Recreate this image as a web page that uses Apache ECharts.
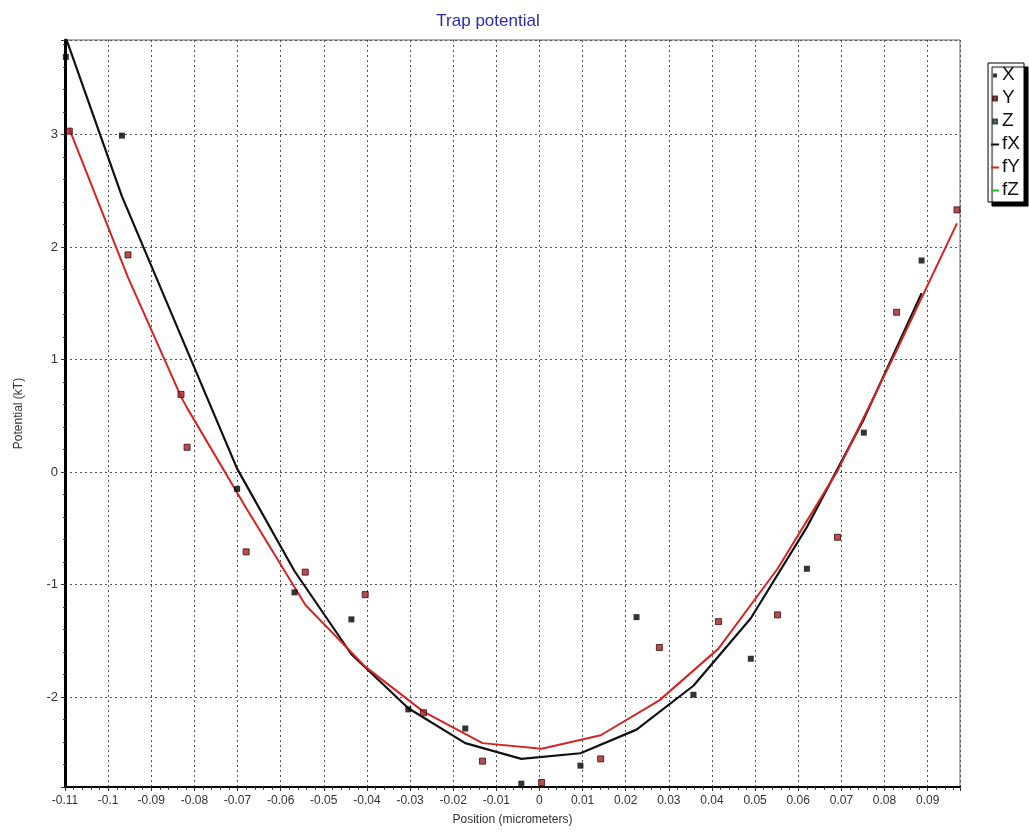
<!DOCTYPE html>
<html>
<head>
<meta charset="utf-8">
<title>Trap potential</title>
<script src="https://cdn.jsdelivr.net/npm/echarts@6/dist/echarts.min.js"></script>
<style>
  html, body { margin: 0; padding: 0; background: #fff; }
  #chart { width: 1029px; height: 834px; }
</style>
</head>
<body>
<div id="chart"></div>
<script>
// Measured positions (micrometers) and potentials (kT) along each axis
const xPos = [-0.1098, -0.0968, -0.0701, -0.0568, -0.0436, -0.0304, -0.0172, -0.0042, 0.0095, 0.0225, 0.0357, 0.0490, 0.0620, 0.0752, 0.0886];
const xPot = [3.69, 2.99, -0.15, -1.07, -1.31, -2.11, -2.28, -2.77, -2.61, -1.29, -1.98, -1.66, -0.86, 0.35, 1.88];
const yPos = [-0.1090, -0.0954, -0.0831, -0.0817, -0.0680, -0.0543, -0.0404, -0.0269, -0.0132, 0.0005, 0.0142, 0.0278, 0.0415, 0.0552, 0.0691, 0.0828, 0.0968];
const yPot = [3.03, 1.93, 0.69, 0.22, -0.71, -0.89, -1.09, -2.14, -2.57, -2.76, -2.55, -1.56, -1.33, -1.27, -0.58, 1.42, 2.33];
const zPos = [];
const zPot = [];

// Fitted curves, evaluated at the measured positions
const fxPot = [3.86, 2.45, 0.03, -0.88, -1.62, -2.10, -2.41, -2.55, -2.50, -2.29, -1.90, -1.30, -0.49, 0.47, 1.59];
const fyPot = [3.05, 1.73, 0.67, 0.57, -0.32, -1.18, -1.73, -2.13, -2.41, -2.46, -2.34, -2.03, -1.57, -0.86, 0.01, 1.08, 2.21];
const fzPot = [];

const xRange = [-0.11, 0.0975];
const yRange = [-2.8, 3.84];

const pairs = (xs, ys) => ys.map((v, i) => [xs[i], v]);

const font = 'Liberation Sans, Arial, sans-serif';

// Legend icons: small centred square for data, short dash for fits
const dotIcon = 'path://M0,0M10,10M3,3.5h4v4h-4z';
const dashIcon = 'path://M0,0M10,10M1,4.5h8v2h-8z';

const chart = echarts.init(document.getElementById('chart'), null, { renderer: 'canvas' });

chart.setOption({
  backgroundColor: '#ffffff',
  animation: false,
  title: {
    text: 'Trap potential',
    left: 483,
    textAlign: 'center',
    top: 8,
    textStyle: { color: '#2b2bb0', fontFamily: font, fontWeight: 'normal', fontSize: 17 }
  },
  legend: {
    orient: 'vertical',
    right: 5,
    top: 63,
    padding: [2, 4, 2, 1],
    itemGap: 3,
    itemWidth: 10,
    itemHeight: 10,
    backgroundColor: '#ffffff',
    borderColor: '#000',
    borderWidth: 1,
    shadowColor: '#000',
    shadowBlur: 1,
    shadowOffsetX: 4,
    shadowOffsetY: 4,
    textStyle: { fontFamily: font, fontSize: 19, color: '#111', lineHeight: 20, padding: [0, 0, 0, -3] },
    data: [
      { name: 'X', icon: dotIcon },
      { name: 'Y', icon: dotIcon },
      { name: 'Z', icon: dotIcon },
      { name: 'fX', icon: dashIcon },
      { name: 'fY', icon: dashIcon },
      { name: 'fZ', icon: dashIcon }
    ]
  },
  grid: {
    left: 65, top: 40, right: 69, bottom: 47,
    show: true, borderColor: '#666', borderWidth: 1, backgroundColor: '#fff'
  },
  xAxis: {
    type: 'value',
    min: xRange[0],
    max: xRange[1],
    interval: 0.01,
    name: 'Position (micrometers)',
    nameLocation: 'middle',
    nameGap: 27,
    nameTextStyle: { fontFamily: font, fontSize: 12, color: '#333' },
    axisLine: { onZero: false, lineStyle: { color: '#000', width: 2 } },
    axisTick: { length: 4, lineStyle: { color: '#333' } },
    minorTick: { show: true, splitNumber: 5, length: 3, lineStyle: { color: '#444' } },
    axisLabel: {
      fontFamily: font, fontSize: 12, color: '#333', margin: 8,
      showMaxLabel: false,
      formatter: v => String(Math.round(v * 100) / 100)
    },
    splitLine: { show: true, lineStyle: { color: '#555', type: [2, 3], width: 1 } }
  },
  yAxis: {
    type: 'value',
    min: yRange[0],
    max: yRange[1],
    splitNumber: 6,
    name: 'Potential (kT)',
    nameLocation: 'middle',
    nameGap: 40,
    nameTextStyle: { fontFamily: font, fontSize: 12, color: '#333' },
    axisLine: { onZero: false, lineStyle: { color: '#000', width: 3 } },
    axisTick: { length: 4, lineStyle: { color: '#333' } },
    minorTick: { show: true, splitNumber: 5, length: 2, lineStyle: { color: '#444' } },
    axisLabel: {
      fontFamily: font, fontSize: 13, color: '#333', margin: 7,
      showMinLabel: false, showMaxLabel: false,
      formatter: v => (Math.abs(v - Math.round(v)) < 1e-6 ? String(Math.round(v)) : '')
    },
    splitLine: { show: true, lineStyle: { color: '#555', type: [2, 3], width: 1 } }
  },
  series: [
    {
      name: 'X', type: 'scatter', data: pairs(xPos, xPot),
      symbol: 'rect', symbolSize: 6,
      itemStyle: { color: '#000', borderColor: '#000', borderWidth: 0 }, z: 5
    },
    {
      name: 'Y', type: 'scatter', data: pairs(yPos, yPot),
      symbol: 'rect', symbolSize: 6,
      itemStyle: { color: '#a3202a', borderColor: '#3d0b0b', borderWidth: 1 }, z: 5
    },
    {
      name: 'Z', type: 'scatter', data: pairs(zPos, zPot),
      symbol: 'rect', symbolSize: 6,
      itemStyle: { color: '#3f6b4f', borderColor: '#1c2e22', borderWidth: 1 }, z: 5
    },
    {
      name: 'fX', type: 'line', data: pairs(xPos, fxPot),
      showSymbol: false, symbol: 'none', clip: true,
      lineStyle: { color: '#111', width: 2.2 }, itemStyle: { color: '#111' }, z: 3
    },
    {
      name: 'fY', type: 'line', data: pairs(yPos, fyPot),
      showSymbol: false, symbol: 'none', clip: true,
      lineStyle: { color: '#d42424', width: 2 }, itemStyle: { color: '#d42424' }, z: 4
    },
    {
      name: 'fZ', type: 'line', data: pairs(zPos, fzPot),
      showSymbol: false, symbol: 'none',
      lineStyle: { color: '#22bb22', width: 2 }, itemStyle: { color: '#22bb22' }, z: 4
    }
  ]
});
</script>
</body>
</html>
